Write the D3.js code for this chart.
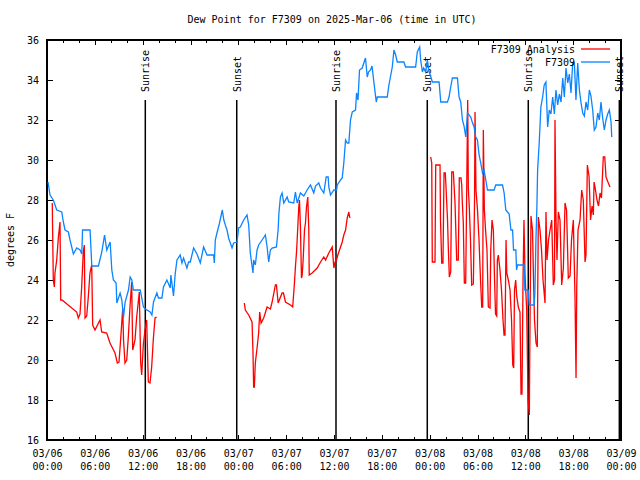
<!DOCTYPE html>
<html><head><meta charset="utf-8">
<script src="https://cdn.jsdelivr.net/npm/d3@7"></script>
<style>
body{margin:0;background:#fff;}
text{font-family:"DejaVu Sans Mono",monospace;font-size:10px;fill:#000;}
</style></head>
<body><svg id="c" width="640" height="480"></svg>
<script>
// ---- data (hours since 2025-03-06 00:00 UTC, dew point °F) ----
const titleText = "Dew Point for F7309 on 2025-Mar-06 (time in UTC)";
const yLabel = "degrees F";
const seriesNames = ["F7309 Analysis", "F7309"];
const yTicks = [16,18,20,22,24,26,28,30,32,34,36];
const sunNames  = ["Sunrise","Sunset","Sunrise","Sunset","Sunrise","Sunset"];
const sunHours  = [12.33, 23.80, 36.25, 47.70, 60.37, 71.79];

const obsHours = [0.13,0.38,0.79,1.22,1.85,2.05,2.26,2.68,2.89,3.31,3.73,4.15,4.36,4.46,5.40,5.62,6.45,6.87,7.22,7.50,7.92,8.13,8.33,8.67,8.76,9.17,9.39,9.59,9.80,10.22,10.43,10.64,10.84,11.69,12.10,12.35,12.94,13.16,13.36,13.78,13.98,14.41,14.61,15.04,15.46,15.54,15.87,16.08,16.30,16.71,16.93,17.13,17.55,17.76,17.97,18.39,18.81,19.23,19.64,20.07,20.90,20.99,21.11,21.32,21.61,21.99,22.18,22.37,22.58,22.78,23.21,23.41,23.84,24.04,24.25,24.67,25.09,25.30,25.50,25.72,25.84,25.92,26.13,26.35,26.55,26.98,27.39,27.61,27.81,28.02,28.24,28.78,28.99,29.09,29.28,29.49,29.70,30.12,30.32,30.95,31.16,31.38,31.79,32.21,32.63,33.05,33.46,33.68,34.09,34.31,34.72,35.02,35.27,35.35,35.56,35.98,36.32,36.41,36.82,37.03,37.23,37.45,37.66,37.86,38.07,38.29,38.70,38.83,39.01,39.20,39.54,39.74,39.95,40.17,40.33,40.58,40.77,41.00,41.30,41.43,42.68,42.89,43.31,43.52,43.73,43.94,44.77,44.98,46.24,46.45,46.75,46.87,47.09,47.25,47.50,47.71,47.88,48.34,49.18,49.39,50.23,50.43,50.64,50.85,51.48,51.69,51.90,52.11,52.31,52.53,52.74,53.15,53.34,53.57,53.78,53.99,54.20,54.41,54.62,54.82,55.04,55.25,56.08,56.29,57.14,57.34,57.55,57.97,58.19,58.40,58.52,58.81,58.90,59.02,59.85,59.94,60.36,60.48,61.11,61.20,61.33,61.45,61.54,61.74,61.95,62.17,62.37,62.58,62.80,63.00,63.21,63.43,63.64,63.84,64.06,64.27,64.48,64.69,64.89,65.10,65.32,65.52,65.73,65.94,66.15,66.35,66.57,66.78,66.99,67.20,67.40,67.61,67.82,68.03,68.23,68.45,68.65,68.86,69.08,69.28,69.49,69.70,69.91,70.12,70.33,70.54,70.75,70.84];
const obsTemps = [28.9,28.25,28.0,27.5,27.4,26.9,26.5,26.4,26.0,25.3,25.6,25.5,25.3,26.5,26.5,24.7,24.7,25.4,26.25,25.5,25.9,24.5,24.0,23.85,22.85,23.35,23.0,22.1,22.9,23.5,24.15,24.0,23.5,23.5,22.65,22.55,22.4,22.25,22.9,23.35,23.1,23.1,23.65,24.0,23.6,24.25,23.2,24.3,25.0,25.25,24.85,25.1,24.6,24.9,24.9,25.6,25.3,24.85,25.65,25.25,25.25,24.85,26.0,26.35,26.8,27.5,27.0,26.75,26.5,26.1,25.6,25.85,25.9,26.6,26.65,27.0,27.25,26.75,25.35,24.7,24.35,25.0,24.75,25.5,25.75,26.0,26.25,25.65,24.9,25.5,25.6,25.65,26.5,27.35,28.15,28.35,27.85,28.15,27.9,27.85,28.4,27.85,28.35,28.2,28.5,28.75,28.35,28.7,28.85,28.6,28.35,29.15,29.15,28.65,28.25,28.5,28.5,28.75,29.0,29.1,29.85,31.0,30.85,30.85,32.0,32.4,32.5,33.35,33.0,34.5,34.6,34.85,35.1,34.15,34.4,34.5,34.7,33.9,32.9,33.15,33.15,33.75,34.65,35.5,35.25,34.9,34.9,34.65,34.65,35.4,35.65,35.0,34.4,34.6,34.4,35.0,34.5,33.9,33.9,32.9,32.9,33.15,33.65,34.1,34.1,33.15,32.9,32.0,31.7,31.15,32.35,32.15,31.9,31.65,31.15,31.0,30.25,29.85,29.35,29.5,29.0,28.5,28.5,28.75,28.75,28.35,27.5,27.3,26.5,26.5,25.5,25.5,24.5,24.75,24.75,23.5,23.5,22.75,22.75,23.4,26.0,27.65,29.5,30.85,32.65,33.15,33.75,33.9,31.65,32.5,32.3,33.15,32.3,33.5,32.75,33.3,32.9,34.1,33.15,34.6,33.85,34.3,33.35,34.85,34.85,33.0,34.85,33.5,32.85,32.35,32.2,32.9,32.5,33.5,33.2,32.5,31.5,31.65,32.35,32.0,32.9,32.1,31.5,32.0,32.3,32.5,31.9,31.15];

// analysis series; null marks a gap in the record
const anaHours = [0.66,0.79,0.92,1.00,1.22,1.42,1.63,1.72,1.88,3.73,3.93,4.14,4.35,4.55,4.68,4.77,4.98,5.18,5.39,5.61,5.73,6.02,6.65,6.86,7.49,7.90,8.53,8.82,9.03,9.25,9.50,9.60,9.78,10.00,10.20,10.41,10.62,10.75,11.04,11.25,11.58,11.75,11.88,12.08,12.29,12.50,12.71,12.92,13.13,13.33,13.55,13.75,
  18.0,
  24.75,24.88,25.30,25.72,25.84,25.92,26.01,26.13,26.35,26.55,26.68,26.85,27.18,27.61,28.02,28.24,28.65,28.78,28.99,29.49,29.66,29.91,30.54,30.82,31.04,31.16,31.29,31.38,31.58,31.67,31.79,31.92,32.00,32.13,32.30,32.42,32.55,32.71,32.84,32.89,33.26,33.89,34.31,34.72,34.94,35.35,35.78,35.98,36.13,36.32,36.48,36.82,37.03,37.23,37.45,37.66,37.86,37.99,
  43.0,
  48.13,48.26,48.33,48.67,48.76,49.30,49.36,49.51,49.67,49.80,49.96,50.05,50.24,50.34,50.47,50.64,50.77,50.97,51.18,51.39,51.59,51.72,51.93,52.02,52.10,52.22,52.35,52.52,52.65,52.77,52.85,52.97,53.12,53.27,53.48,53.63,53.69,53.81,54.00,54.19,54.38,54.53,54.65,54.73,54.86,55.01,55.19,55.36,55.57,55.66,55.82,55.99,56.14,56.26,56.41,56.49,56.61,56.82,57.01,57.20,57.33,57.45,57.58,57.67,57.87,58.08,58.27,58.42,58.54,58.64,58.79,58.92,59.12,59.33,59.46,59.58,59.71,59.83,59.96,60.17,60.34,60.50,60.59,60.71,60.90,61.03,61.15,61.34,61.50,61.63,61.84,62.03,62.22,62.47,62.59,62.72,62.91,63.10,63.31,63.51,63.66,63.72,63.85,63.97,64.14,64.35,64.56,64.77,64.98,65.17,65.39,65.61,65.79,66.02,66.23,66.36,66.45,66.61,66.86,67.07,67.27,67.49,67.61,67.78,67.99,68.18,68.37,68.53,68.62,68.74,68.99,69.18,69.37,69.55,69.78,69.96,70.12,70.41,70.62];
const anaTemps = [27.85,24.0,23.65,24.35,25.0,26.1,26.9,23.0,23.0,22.4,22.1,22.3,23.65,25.4,25.75,22.1,22.2,23.15,24.35,24.75,21.75,21.5,22.0,21.4,21.35,20.85,20.35,19.85,19.9,21.1,22.6,21.0,19.85,20.0,21.15,22.65,23.9,20.5,21.0,22.15,23.4,19.85,19.25,20.75,21.5,22.0,18.9,18.85,19.65,21.0,22.1,22.15,
  null,
  22.85,22.5,22.25,21.9,20.35,18.65,18.65,19.85,20.6,21.35,22.4,21.85,22.1,22.65,22.55,22.9,23.75,23.75,22.85,23.35,23.35,22.9,22.75,22.65,23.85,24.65,25.35,26.0,27.65,28.0,26.65,24.1,24.2,25.0,26.5,26.85,27.65,28.15,26.5,24.25,24.35,24.6,24.9,25.15,25.0,25.35,25.65,24.6,24.9,25.0,25.25,25.65,25.9,26.25,26.5,27.1,27.4,27.1,
  null,
  30.15,29.85,24.9,24.9,29.75,29.75,27.0,24.85,24.85,29.35,29.35,28.65,27.0,25.6,24.15,24.4,29.4,29.4,27.85,25.0,25.0,29.1,29.1,28.75,27.85,26.85,23.85,23.85,28.6,33.0,28.6,27.65,26.0,23.75,23.8,28.0,32.4,28.5,27.5,26.0,24.0,22.65,22.65,31.5,27.5,26.5,25.5,22.65,22.6,25.5,27.0,26.5,24.0,22.3,22.2,25.0,25.25,24.5,23.5,22.0,21.25,21.25,26.0,24.35,24.0,23.5,22.0,19.75,19.6,23.5,24.0,23.2,22.65,22.4,18.3,18.3,24.0,27.0,24.25,22.5,18.0,17.25,22.0,27.2,26.5,24.0,22.0,20.85,20.65,27.15,26.5,25.5,24.0,22.85,27.4,25.0,26.0,26.5,27.0,23.75,24.0,32.0,27.0,25.0,27.4,27.0,23.75,24.6,27.85,27.5,24.1,24.2,26.0,27.0,23.15,19.1,23.65,26.5,27.0,28.5,28.0,24.9,25.25,29.75,29.2,27.0,27.7,27.25,28.9,28.65,28.0,27.7,28.35,28.1,30.15,30.15,29.15,28.85,28.65];

// ---- drawing ----
const HOUR = 3600e3;
const t0 = Date.UTC(2025, 2, 6, 0, 0);
const toDate = h => new Date(t0 + h * HOUR);

const svg = d3.select("#c");
const L = 47, R = 621, T = 40, B = 440;
const x = d3.scaleUtc().domain([toDate(0), toDate(72)]).range([L, R]);
const y = d3.scaleLinear().domain([16, 36]).range([B, T]);

// title
svg.append("text").attr("x", 332).attr("y", 23).attr("text-anchor", "middle").text(titleText);
// y label
svg.append("text").attr("transform", "translate(14,240) rotate(-90)").attr("text-anchor", "middle").text(yLabel);

// frame
svg.append("rect").attr("x", L).attr("y", T).attr("width", R - L).attr("height", B - T)
  .attr("fill", "none").attr("stroke", "#000").attr("stroke-width", 1.2).attr("shape-rendering", "crispEdges");

function clean(g){ g.select(".domain").remove(); g.selectAll("line").attr("stroke","#000").attr("shape-rendering","crispEdges"); }
// x ticks (inward) bottom & top
const minorX = d3.utcHour.every(2), majorX = d3.utcHour.every(6);
svg.append("g").attr("transform", `translate(0,${B})`).call(d3.axisTop(x).ticks(minorX).tickSize(3).tickFormat("")).call(clean);
svg.append("g").attr("transform", `translate(0,${B})`).call(d3.axisTop(x).ticks(majorX).tickSize(5).tickFormat("")).call(clean);
svg.append("g").attr("transform", `translate(0,${T})`).call(d3.axisBottom(x).ticks(minorX).tickSize(3).tickFormat("")).call(clean);
svg.append("g").attr("transform", `translate(0,${T})`).call(d3.axisBottom(x).ticks(majorX).tickSize(5).tickFormat("")).call(clean);
// x labels (two lines)
const fmtD = d3.utcFormat("%m/%d"), fmtT = d3.utcFormat("%H:%M");
const xl = svg.append("g").attr("transform", `translate(0,${B})`)
  .call(d3.axisBottom(x).ticks(majorX).tickSize(0).tickPadding(10).tickFormat(""));
xl.select(".domain").remove();
xl.selectAll(".tick text").each(function(d){
  const s = d3.select(this).attr("dy", null).attr("y", 17);
  s.append("tspan").attr("x", 0).text(fmtD(d));
  s.append("tspan").attr("x", 0).attr("dy", 13).text(fmtT(d));
});
xl.attr("font-family", null).attr("font-size", null);

// y ticks (inward) left & right
svg.append("g").attr("transform", `translate(${L},0)`).call(d3.axisRight(y).tickValues(yTicks).tickSize(6).tickFormat("")).call(clean);
svg.append("g").attr("transform", `translate(${R},0)`).call(d3.axisLeft(y).tickValues(yTicks).tickSize(6).tickFormat("")).call(clean);
const yl = svg.append("g").attr("transform", `translate(${L},0)`).call(d3.axisLeft(y).tickValues(yTicks).tickSize(0).tickPadding(8));
yl.select(".domain").remove();
yl.attr("font-family", null).attr("font-size", null);

// sunrise / sunset markers
const sun = svg.append("g");
sunHours.forEach((h, i) => {
  const sx = x(toDate(h));
  sun.append("line").attr("x1", sx).attr("x2", sx).attr("y1", 100).attr("y2", B)
    .attr("stroke", "#000").attr("stroke-width", 1.5);
  sun.append("text").attr("transform", `translate(${sx + 4},92) rotate(-90)`).attr("text-anchor", "start").text(sunNames[i]);
});

// series
const line = d3.line().defined(d => d[1] != null).x(d => x(toDate(d[0]))).y(d => y(d[1]));
const ana = anaHours.map((h, i) => [h, anaTemps[i]]);
const obs = obsHours.map((h, i) => [h, obsTemps[i]]);
svg.append("path").datum(ana).attr("d", line).attr("fill", "none").attr("stroke", "#ff0000").attr("stroke-width", 1.3);
svg.append("path").datum(obs).attr("d", line).attr("fill", "none").attr("stroke", "#0a84ff").attr("stroke-width", 1.3);

// legend
const lg = svg.append("g");
const legColors = ["#ff0000", "#0a84ff"];
seriesNames.forEach((n, i) => {
  const ly = 49 + i * 13;
  lg.append("text").attr("x", 575).attr("y", ly + 4).attr("text-anchor", "end").text(n);
  lg.append("line").attr("x1", 581).attr("x2", 610).attr("y1", ly).attr("y2", ly).attr("stroke", legColors[i]).attr("stroke-width", 1.3);
});
</script></body></html>
